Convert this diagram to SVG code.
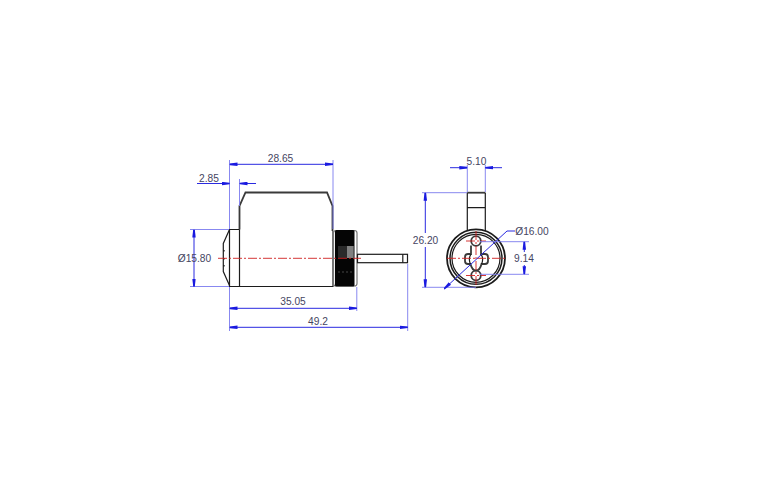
<svg xmlns="http://www.w3.org/2000/svg" width="760" height="500" viewBox="0 0 760 500">
<defs>
<marker id="a" viewBox="0 0 8 4" refX="8" refY="2" markerWidth="8" markerHeight="4" orient="auto-start-reverse" markerUnits="userSpaceOnUse"><path d="M0 0.3L8 1.2V2.8L0 3.7Z" fill="#1a1ae0"/></marker>
</defs>
<style>
.o{fill:none;stroke:#1c1c1c;stroke-width:1.2}
.t{fill:none;stroke:#3a3a3a;stroke-width:1.8}
.e{fill:none;stroke:#7a7aee;stroke-width:.9}
.d{fill:none;stroke:#2a2ae0;stroke-width:1}
.c{fill:none;stroke:#d02020;stroke-width:.9;stroke-dasharray:9 2 2 2}
text{font-family:"Liberation Sans",Arial,sans-serif;font-size:10.2px;fill:#45455f;text-anchor:middle}
</style>
<rect width="760" height="500" fill="#fff"/>
<g id="side-view">
<path class="t" d="M239.500 229.500V206L245.500 192.500H327L332.500 206V231"/>
<path class="o" d="M239.500 229.500H229.500V286.500H333V231"/>
<path class="o" d="M239.500 229.500V286.500"/>
<path class="o" d="M229.500 229.500L223.300 243.500V271.500L229.500 285.500"/>
<path class="o" d="M224 250v1.500M224 258v1.500M224 265v1.500" stroke-width="1.400"/>
<rect x="333.500" y="230.500" width="23.500" height="55.500" rx="2.500" fill="#fff" stroke="#777" stroke-width="1.200"/>
<rect x="335" y="230" width="19.500" height="56.500" rx="1.500" fill="#050505"/>
<path d="M338 246h16v12h-16z" fill="#2a2a2a"/>
<path d="M347 246h6.500v12h-6.500z" fill="#808080"/>
<path d="M338 272h16" stroke="#555" stroke-width=".8" stroke-dasharray="2 2"/>
<rect x="357.500" y="254.300" width="50" height="8.400" fill="#fff" stroke="#1c1c1c" stroke-width="1.200"/>
<path class="o" d="M402.800 254.300V262.700"/>
</g>
<g id="end-view">
<path class="t" d="M467.300 192.700H485.300"/>
<path class="o" d="M467.300 192.700V232M485.300 192.700V232M467.300 207.700H485.300"/>
<circle cx="476" cy="258.300" r="29" fill="#fff" stroke="#1c1c1c" stroke-width="1.800"/>
<circle cx="476" cy="258.300" r="26" fill="none" stroke="#1c1c1c" stroke-width="1.500"/>
<circle cx="476" cy="258.300" r="24" class="o"/>
<circle cx="476" cy="241" r="4.800" class="t"/>
<circle cx="476" cy="275.500" r="4.800" class="t"/>
<path class="t" d="M471 245.500V254H468Q465 254 465 257V261Q465 264 468 264H470.500Q472 270.500 476 270.500Q480 270.500 481.500 264H485Q488 264 488 261V257Q488 254 485 254H481V245.500"/>
<path class="o" d="M470.500 264Q468 259 471 254M481 254Q484 259 481.500 264"/>
</g>
<g id="centerlines">
<path class="c" d="M218 258.300H361"/>
<path class="c" d="M447 258.300H505"/>
<path class="c" d="M476 231V285"/>
<path class="c" d="M466 241H486M466 275.500H486"/>
</g>
<g id="connectors">
<path class="e" d="M229.500 160V229M239.500 179V206M333 160V229"/>
<path class="d" d="M229.500 164.300H333" marker-start="url(#a)" marker-end="url(#a)"/>
<path class="d" d="M197 183.500H229.500" marker-end="url(#a)"/>
<path class="d" d="M239.500 183.500H256" marker-start="url(#a)"/>
<path class="e" d="M190 229.500H229M190 286.500H229"/>
<path class="d" d="M194 229.500V286.500" marker-start="url(#a)" marker-end="url(#a)"/>
<path class="e" d="M229.500 287V331M356.800 287V311M407.700 264V331"/>
<path class="d" d="M229.500 308.300H356.800" marker-start="url(#a)" marker-end="url(#a)"/>
<path class="d" d="M229.500 327.300H407.700" marker-start="url(#a)" marker-end="url(#a)"/>
<path class="e" d="M467.300 165V192M485.300 165V192M422 192.700H467M422 287.300H476"/>
<path class="d" d="M450 167.700H467.300" marker-end="url(#a)"/>
<path class="d" d="M485.300 167.700H502" marker-start="url(#a)"/>
<path class="d" d="M425.300 192.700V233M425.300 247V287.300" marker-start="url(#a)" marker-end="url(#a)"/>
<path class="d" d="M444 289L507 231H515" marker-start="url(#a)"/>
<path class="e" d="M480 241.700H529M480 274.300H529"/>
<path class="d" d="M524.300 241.700V252M524.300 265V274.300" marker-start="url(#a)" marker-end="url(#a)"/>
</g>
<g id="labels">
<text x="280.500" y="161.500">28.65</text>
<text x="209" y="181.500">2.85</text>
<text x="194.500" y="262">Ø15.80</text>
<text x="293" y="305">35.05</text>
<text x="318" y="324.500">49.2</text>
<text x="476.500" y="164.500">5.10</text>
<text x="425.500" y="243.500">26.20</text>
<text x="532" y="234.500">Ø16.00</text>
<text x="524" y="262">9.14</text>
</g>
</svg>
